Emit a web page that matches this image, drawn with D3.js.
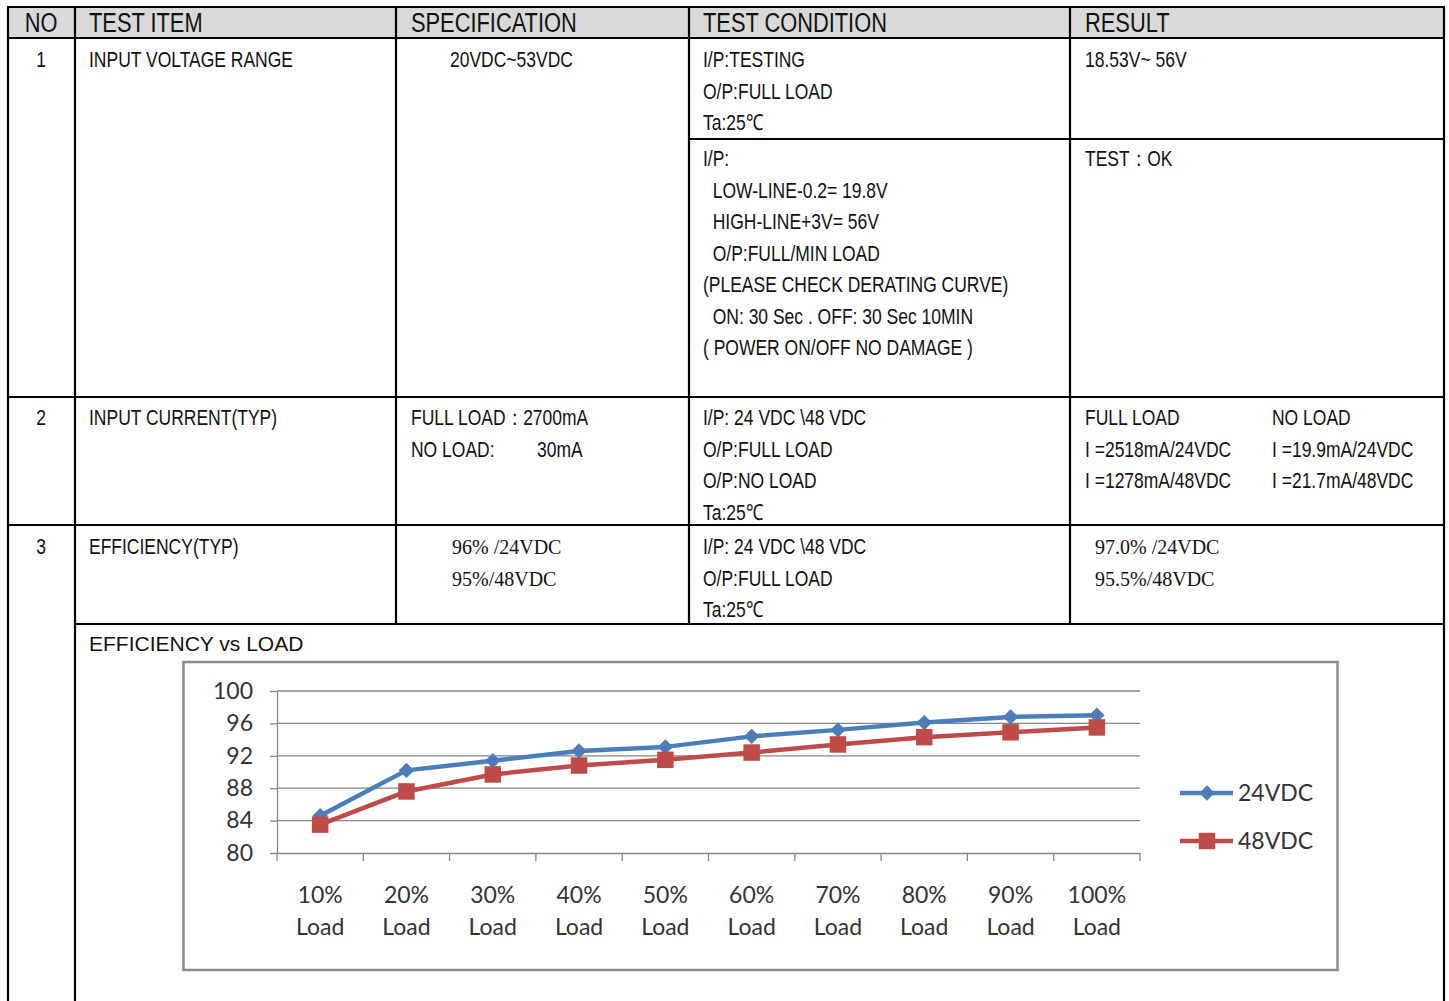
<!DOCTYPE html>
<html>
<head>
<meta charset="utf-8">
<script src="https://cdn.jsdelivr.net/npm/d3@7"></script>
<style>
  body { margin: 0; background: #fff; }
  .cell { font-family: "Liberation Sans", Arial, sans-serif; font-size: 22px; fill: #111; white-space: pre; }
  .head { font-size: 28px; }
  .serif { font-family: "Liberation Serif", "Times New Roman", serif; font-size: 20px; fill: #111; white-space: pre; }
  .title { font-family: "Liberation Sans", Arial, sans-serif; font-size: 21px; fill: #111; }
  .axis text, .legend text { font-family: Lato, "Open Sans", sans-serif; fill: #333; }
  .axis path, .axis line, .grid line { stroke: #868686; stroke-width: 1.3; }
</style>
</head>
<body>
<div id="chart-area"></div>
<script>

// ---- DATA ----

let loads = ["10%", "20%", "30%", "40%", "50%", "60%", "70%", "80%", "90%", "100%"];
let eff24 = [84.6, 90.2, 91.4, 92.6, 93.1, 94.4, 95.2, 96.1, 96.8, 97.0];
let eff48 = [83.5, 87.6, 89.7, 90.8, 91.5, 92.4, 93.4, 94.3, 94.9, 95.5];
let seriesNames = ["24VDC", "48VDC"];
let yTicks = [80, 84, 88, 92, 96, 100];

let headers = ["NO", "TEST ITEM", "SPECIFICATION", "TEST CONDITION", "RESULT"];

let row1Item = ["INPUT VOLTAGE RANGE"];
let row1Spec = ["20VDC~53VDC"];
let row1CondA = ["I/P:TESTING", "O/P:FULL LOAD", "Ta:25℃"];
let row1ResA = ["18.53V~ 56V"];
let row1CondB = ["I/P:", "  LOW-LINE-0.2= 19.8V", "  HIGH-LINE+3V= 56V", "  O/P:FULL/MIN LOAD",
  "(PLEASE CHECK DERATING CURVE)", "  ON: 30 Sec . OFF: 30 Sec 10MIN", "( POWER ON/OFF NO DAMAGE )"];
let row1ResB = ["TEST：OK"];

let row2Item = ["INPUT CURRENT(TYP)"];
let row2Spec = ["FULL LOAD：2700mA", "NO LOAD:"];
let row2SpecVal = ["", "30mA"];
let row2Cond = ["I/P: 24 VDC \\48 VDC", "O/P:FULL LOAD", "O/P:NO LOAD", "Ta:25℃"];
let row2ResFull = ["FULL LOAD", "I =2518mA/24VDC", "I =1278mA/48VDC"];
let row2ResNo = ["NO LOAD", "I =19.9mA/24VDC", "I =21.7mA/48VDC"];

let row3Item = ["EFFICIENCY(TYP)"];
let row3Spec = ["96% /24VDC", "95%/48VDC"];
let row3Cond = ["I/P: 24 VDC \\48 VDC", "O/P:FULL LOAD", "Ta:25℃"];
let row3Res = ["97.0% /24VDC", "95.5%/48VDC"];

let chartTitle = "EFFICIENCY vs LOAD";

// ---- PAGE ----

let svg = d3
  .select("#chart-area")
  .append("svg")
  .attr("width", 1449)
  .attr("height", 1001);

// TABLE GRID

svg.append("rect")
  .attr("x", 8).attr("y", 7)
  .attr("width", 1436).attr("height", 31)
  .attr("fill", "#d9d9d9");

let hLines = [[7, 8, 1444], [38, 8, 1444], [139, 689, 1444], [397, 8, 1444], [525, 8, 1444], [624, 75, 1444]];
let vLines = [[8, 7, 1001], [75, 7, 1001], [396, 7, 624], [689, 7, 624], [1070, 7, 624], [1444, 7, 1001]];

svg.selectAll(".hline")
  .data(hLines)
  .enter()
  .append("line")
  .attr("x1", function(d) { return d[1] - 1; })
  .attr("x2", function(d) { return d[2] + 1; })
  .attr("y1", function(d) { return d[0]; })
  .attr("y2", function(d) { return d[0]; })
  .attr("stroke", "#000")
  .attr("stroke-width", 2.2);

svg.selectAll(".vline")
  .data(vLines)
  .enter()
  .append("line")
  .attr("x1", function(d) { return d[0]; })
  .attr("x2", function(d) { return d[0]; })
  .attr("y1", function(d) { return d[1]; })
  .attr("y2", function(d) { return d[2]; })
  .attr("stroke", "#000")
  .attr("stroke-width", 2.2);

// narrow look: Liberation Sans squeezed horizontally
let narrow = 0.795;

// HEADER TEXT
let headX = [41, 89, 411, 703, 1085];
svg.selectAll(".head")
  .data(headers)
  .enter()
  .append("text")
  .attr("class", "cell head")
  .attr("transform", function(d, i) { return "translate(" + headX[i] + ",32) scale(0.78,1)"; })
  .style("text-anchor", function(d, i) { return i === 0 ? "middle" : "start"; })
  .text(function(d) { return d; });

// CELL TEXT
let lineH = 31.5;
function cellText(lines, x, y, cls, anchor) {
  let sx = cls === "serif" ? 1 : narrow;
  svg.append("g")
    .selectAll("text")
    .data(lines)
    .enter()
    .append("text")
    .attr("class", cls || "cell")
    .attr("transform", function(d, i) {
      return "translate(" + x + "," + (y + i * lineH) + ") scale(" + sx + ",1)";
    })
    .style("text-anchor", anchor || "start")
    .text(function(d) { return d; });
}

cellText(["1"], 41, 67, "cell", "middle");
cellText(row1Item, 89, 67);
cellText(row1Spec, 450, 67);
cellText(row1CondA, 703, 67);
cellText(row1ResA, 1085, 67);
cellText(row1CondB, 703, 166);
cellText(row1ResB, 1085, 166);

cellText(["2"], 41, 425, "cell", "middle");
cellText(row2Item, 89, 425);
cellText(row2Spec, 411, 425);
cellText(row2SpecVal, 537, 425);
cellText(row2Cond, 703, 425);
cellText(row2ResFull, 1085, 425);
cellText(row2ResNo, 1272, 425);

cellText(["3"], 41, 554, "cell", "middle");
cellText(row3Item, 89, 554);
cellText(row3Spec, 452, 554, "serif");
cellText(row3Cond, 703, 554);
cellText(row3Res, 1095, 554, "serif");

svg.append("text")
  .attr("class", "title")
  .attr("x", 89)
  .attr("y", 651)
  .text(chartTitle);

// ---- CHART ----

svg.append("rect")
  .attr("x", 183.5).attr("y", 662)
  .attr("width", 1154).attr("height", 308)
  .attr("fill", "#fff")
  .attr("stroke", "#8c8c8c")
  .attr("stroke-width", 2.5);

let x = d3.scaleBand().domain(loads).range([277, 1140]);
let y = d3.scaleLinear().domain([80, 100]).range([853, 691]);
let cx = function(d) { return x(d) + x.bandwidth() / 2; };

// gridlines
svg.append("g")
  .attr("class", "grid")
  .selectAll("line")
  .data(yTicks.slice(1))
  .enter()
  .append("line")
  .attr("x1", 277)
  .attr("x2", 1140)
  .attr("y1", function(d) { return y(d); })
  .attr("y2", function(d) { return y(d); });

// y axis
let yAxis = d3.axisLeft(y).tickValues(yTicks).tickSize(7).tickSizeOuter(0).tickPadding(17);
let yAxisGroup = svg.append("g")
  .attr("class", "axis")
  .attr("transform", "translate(277,0)")
  .call(yAxis);
yAxisGroup.selectAll("text").style("font-size", "23px");

// x axis
let xAxis = d3.axisBottom(x).tickSize(0).tickSizeOuter(0).tickFormat(function() { return ""; });
let xAxisGroup = svg.append("g")
  .attr("class", "axis")
  .attr("transform", "translate(0,853)")
  .call(xAxis);

// category boundary ticks
xAxisGroup.selectAll(".bound")
  .data(loads.concat(["end"]))
  .enter()
  .append("line")
  .attr("class", "bound")
  .attr("x1", function(d) { return d === "end" ? 1140 : x(d); })
  .attr("x2", function(d) { return d === "end" ? 1140 : x(d); })
  .attr("y1", 0)
  .attr("y2", 8);

let xLabels = xAxisGroup.selectAll(".xlab")
  .data(loads)
  .enter()
  .append("text")
  .attr("class", "xlab")
  .style("text-anchor", "middle")
  .style("font-size", "23px");
xLabels.append("tspan")
  .attr("x", function(d) { return cx(d); })
  .attr("y", 50)
  .text(function(d) { return d; });
xLabels.append("tspan")
  .attr("x", function(d) { return cx(d); })
  .attr("y", 82)
  .text("Load");

// series
let colors = ["#4a7ebb", "#be4b48"];
let series = [eff24, eff48];
let line = d3.line()
  .x(function(d, i) { return cx(loads[i]); })
  .y(function(d) { return y(d); });

let diamond = d3.symbol().type(d3.symbolSquare).size(118);
let square = d3.symbol().type(d3.symbolSquare).size(272);

series.forEach(function(vals, s) {
  svg.append("path")
    .attr("d", line(vals))
    .attr("fill", "none")
    .attr("stroke", colors[s])
    .attr("stroke-width", 4.5)
    .attr("stroke-linejoin", "round");

  svg.selectAll(".m" + s)
    .data(vals)
    .enter()
    .append("path")
    .attr("class", "m" + s)
    .attr("d", s === 0 ? diamond : square)
    .attr("fill", colors[s])
    .attr("transform", function(d, i) {
      return "translate(" + cx(loads[i]) + "," + y(d) + ")" + (s === 0 ? " rotate(45)" : "");
    });
});

// legend
let legend = svg.append("g").attr("class", "legend");
seriesNames.forEach(function(name, s) {
  let ly = 793 + s * 48;
  legend.append("line")
    .attr("x1", 1180).attr("x2", 1233)
    .attr("y1", ly).attr("y2", ly)
    .attr("stroke", colors[s])
    .attr("stroke-width", 4.5);
  legend.append("path")
    .attr("d", s === 0 ? diamond : square)
    .attr("fill", colors[s])
    .attr("transform", "translate(1207," + ly + ")" + (s === 0 ? " rotate(45)" : ""));
  legend.append("text")
    .attr("x", 1238)
    .attr("y", ly)
    .attr("dy", "0.36em")
    .style("font-size", "23px")
    .text(name);
});

</script>
</body>
</html>
